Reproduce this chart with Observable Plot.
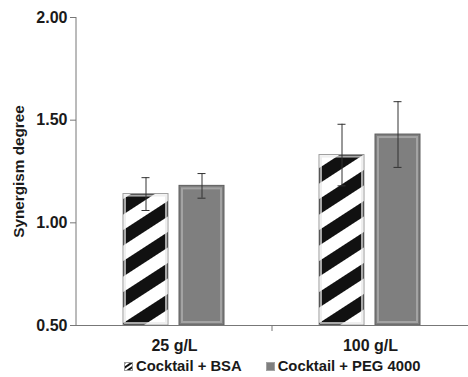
<!DOCTYPE html>
<html><head><meta charset="utf-8">
<script src="https://cdn.jsdelivr.net/npm/d3@7"></script>
<script src="https://cdn.jsdelivr.net/npm/@observablehq/plot@0.6"></script>
<style>
body{margin:0;background:#fff;font-family:"Liberation Sans",Arial,sans-serif;}
#legend{display:flex;align-items:center;height:22px;padding-left:124px;font-size:14.8px;font-weight:bold;color:#1a1a1a;}
#legend .item{display:flex;align-items:center;margin-right:24px;}
#legend svg{margin-right:3px;}
</style>
</head><body>
<div id="chart"></div>
<div id="legend"></div>
<script>
const groups = ["25 g/L", "100 g/L"];
const series = ["Cocktail + BSA", "Cocktail + PEG 4000"];
const bsaMean = [1.14, 1.33];
const bsaErr = [0.08, 0.15];
const pegMean = [1.18, 1.43];
const pegErr = [0.06, 0.16];
const yTicks = [0.5, 1.0, 1.5, 2.0];
const yLabel = "Synergism degree";

const rows = [];
groups.forEach((g, i) => {
  rows.push({group: g, series: series[0], mean: bsaMean[i], err: bsaErr[i]});
  rows.push({group: g, series: series[1], mean: pegMean[i], err: pegErr[i]});
});
const base = yTicks[0];
const bsaRows = rows.filter(d => d.series === series[0]);
const pegRows = rows.filter(d => d.series === series[1]);
const fmt = d3.format(".2f");

const plot = Plot.plot({
  width: 468, height: 355,
  marginLeft: 76, marginRight: 0, marginTop: 17, marginBottom: 30,
  style: {fontFamily: '"Liberation Sans", Arial, sans-serif', color: "#1a1a1a", background: "#fff"},
  fx: {domain: groups, padding: 0, label: null},
  x: {domain: series, paddingInner: 0.196, paddingOuter: 0.848, axis: null},
  y: {domain: [yTicks[0], yTicks[yTicks.length - 1]]},
  marks: [
    Plot.barY(bsaRows, {fx: "group", x: "series", y1: () => base, y2: "mean", fill: "url(#stripes)", stroke: "#9a9a9a", strokeWidth: 1}),
    Plot.barY(bsaRows, {fx: "group", x: "series", y1: () => base, y2: "mean", fill: "none", stroke: "#e8e8e8", strokeWidth: 2, inset: 2, strokeOpacity: 0.7}),
    Plot.barY(pegRows, {fx: "group", x: "series", y1: () => base, y2: "mean", fill: "#7f7f7f", stroke: "#5e5e5e", strokeWidth: 1}),
    Plot.barY(pegRows, {fx: "group", x: "series", y1: () => base, y2: "mean", fill: "none", stroke: "#a3a3a3", strokeWidth: 2, inset: 3}),
    Plot.ruleX(rows, {fx: "group", x: "series", y1: d => d.mean - d.err, y2: d => d.mean + d.err, stroke: "#333", strokeWidth: 1}),
    Plot.tickY(rows, {fx: "group", x: "series", y: d => d.mean + d.err, stroke: "#333", strokeWidth: 1, insetLeft: 18.5, insetRight: 18.5}),
    Plot.tickY(rows, {fx: "group", x: "series", y: d => d.mean - d.err, stroke: "#333", strokeWidth: 1, insetLeft: 18.5, insetRight: 18.5}),
    Plot.ruleY([base], {stroke: "#777", strokeWidth: 1}),
    Plot.axisY(yTicks, {tickFormat: fmt, tickSize: 6, tickPadding: 3, stroke: "#777",
      label: yLabel, labelAnchor: "center", labelArrow: "none", labelOffset: 63}),
    Plot.axisFx({anchor: "bottom", tickSize: 0, tickPadding: 14, label: null})
  ]
});

const svg = d3.select(plot);
const defs = svg.insert("defs", ":first-child");
const pat = defs.append("pattern").attr("id", "stripes").attr("patternUnits", "userSpaceOnUse")
  .attr("width", 26).attr("height", 26).attr("patternTransform", "rotate(-33)");
pat.append("rect").attr("width", 26).attr("height", 26).attr("fill", "#fff");
pat.append("rect").attr("width", 26).attr("height", 13).attr("fill", "#111");

const ys = plot.scale("y");
const fxs = plot.scale("fx");
svg.append("line").attr("x1", 76).attr("x2", 76)
  .attr("y1", ys.apply(yTicks[yTicks.length - 1])).attr("y2", ys.apply(base))
  .attr("stroke", "#777");
const xb = fxs.apply(groups[1]);
svg.append("line").attr("x1", xb).attr("x2", xb)
  .attr("y1", ys.apply(base)).attr("y2", ys.apply(base) + 6).attr("stroke", "#777");

const tickStrings = yTicks.map(fmt);
svg.selectAll("text").each(function() {
  const t = this.textContent;
  const s = d3.select(this);
  if (tickStrings.includes(t)) s.style("font-size", "16px").style("font-weight", "bold");
  else if (t === yLabel) s.style("font-size", "15.3px").style("font-weight", "bold");
  else if (groups.includes(t)) s.style("font-size", "16px").style("font-weight", "bold");
});

document.getElementById("chart").appendChild(plot);

const legend = document.getElementById("legend");
series.forEach((s, i) => {
  const item = document.createElement("div");
  item.className = "item";
  item.innerHTML = i === 0
    ? `<svg width="9" height="9"><defs><pattern id="lstr" patternUnits="userSpaceOnUse" width="4" height="4" patternTransform="rotate(-35)"><rect width="4" height="4" fill="#fff"/><rect width="4" height="2" fill="#111"/></pattern></defs><rect x="0.5" y="0.5" width="8" height="8" fill="url(#lstr)" stroke="#999"/></svg>`
    : `<svg width="9" height="9"><rect x="0.5" y="0.5" width="8" height="8" fill="#7f7f7f" stroke="#a3a3a3"/></svg>`;
  const t = document.createElement("span");
  t.textContent = s;
  item.appendChild(t);
  legend.appendChild(item);
});
</script>
</body></html>
